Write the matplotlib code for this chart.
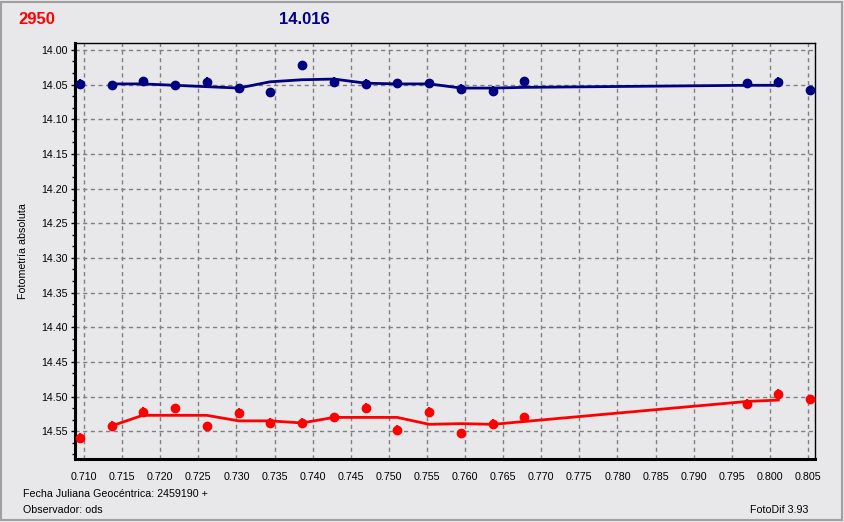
import matplotlib
matplotlib.use("Agg")
import matplotlib.pyplot as plt
from matplotlib.ticker import MultipleLocator, AutoMinorLocator, FormatStrFormatter
from matplotlib.patches import Rectangle

plt.rcParams['font.family'] = ['Liberation Sans', 'DejaVu Sans']

# ---- data ----
x_pts = [0.7095, 0.7137, 0.7177, 0.7219, 0.7261, 0.7303, 0.7344, 0.7386, 0.7428,
         0.7470, 0.7511, 0.7553, 0.7595, 0.7637, 0.7677, 0.7970, 0.8011, 0.8053]
blue_pts = [14.049, 14.051, 14.045, 14.051, 14.046, 14.055, 14.061, 14.022, 14.046,
            14.049, 14.048, 14.048, 14.056, 14.059, 14.045, 14.048, 14.046, 14.058]
red_pts = [14.559, 14.542, 14.522, 14.517, 14.543, 14.523, 14.538, 14.538, 14.530,
           14.516, 14.548, 14.522, 14.553, 14.539, 14.530, 14.510, 14.496, 14.504]
pt_err = [0.0065] * 18

x_trend = [0.7137, 0.7177, 0.7219, 0.7261, 0.7303, 0.7344, 0.7386, 0.7428, 0.7470,
           0.7511, 0.7553, 0.7595, 0.7637, 0.7677, 0.7970, 0.8011]
blue_trend = [14.049, 14.049, 14.051, 14.053, 14.055, 14.046, 14.043, 14.042, 14.048,
              14.049, 14.049, 14.055, 14.055, 14.054, 14.051, 14.051]
red_trend = [14.542, 14.527, 14.527, 14.527, 14.535, 14.535, 14.538, 14.530, 14.530,
             14.530, 14.540, 14.539, 14.540, 14.536, 14.507, 14.505]

title_left = "2950"
title_mid = "14.016"
ylabel = "Fotometría absoluta"
footer1 = "Fecha Juliana Geocéntrica: 2459190 +"
footer2 = "Observador: ods"
footer3 = "FotoDif 3.93"

BG = '#E8E8EA'
NAVY = '#000080'
RED = '#FF0000'
FS = 7.7

fig = plt.figure(figsize=(8.44, 5.22), dpi=100, facecolor=BG)
fig.patches.append(Rectangle((1/844, 2/522), 841/844, 518/522, transform=fig.transFigure,
                             fill=False, edgecolor='#A0A0A0', linewidth=1.5))

ax = fig.add_axes([75/844, 1 - 459/522, (815 - 75)/844, (459 - 43)/522])
ax.set_facecolor(BG)

ax.plot(x_trend, blue_trend, color=NAVY, lw=2.0, zorder=3)
ax.plot(x_trend, red_trend, color=RED, lw=2.0, zorder=3)
ax.errorbar(x_pts, blue_pts, yerr=pt_err, fmt='o', color=NAVY, ms=6, elinewidth=1.5,
            capsize=0, zorder=4)
ax.errorbar(x_pts, red_pts, yerr=pt_err, fmt='o', color=RED, ms=6, elinewidth=1.5,
            capsize=0, zorder=4)

ax.set_xlim(0.70882, 0.80592)
ax.set_ylim(14.590, 13.990)
ax.set_xticks([0.710 + 0.005 * i for i in range(20)])
ax.set_yticks([14.00 + 0.05 * i for i in range(12)])
ax.yaxis.set_minor_locator(AutoMinorLocator(3))
ax.xaxis.set_major_formatter(FormatStrFormatter('%.3f'))
ax.yaxis.set_major_formatter(FormatStrFormatter('%.2f'))

ax.grid(True, which='major', color='#808080', linestyle=(0, (3, 2.5)), linewidth=1.0, zorder=1)
ax.tick_params(axis='x', which='both', length=0, pad=9, labelsize=FS, colors='black')
ax.tick_params(axis='y', which='major', length=3, width=1, pad=2, labelsize=FS, colors='black')
ax.tick_params(axis='y', which='minor', length=2, width=1)

for s in ['top', 'right']:
    ax.spines[s].set_linewidth(1.0)
for s in ['left', 'bottom']:
    ax.spines[s].set_linewidth(2.2)
for s in ax.spines.values():
    s.set_color('black')

ax.set_ylabel(ylabel, fontsize=FS, labelpad=10)

fig.text(18/844, 1 - 19/522, title_left, color=RED, fontsize=12, fontweight='bold',
         ha='left', va='center')
fig.text(304/844, 1 - 19/522, title_mid, color=NAVY, fontsize=12, fontweight='bold',
         ha='center', va='center')
fig.text(23/844, 1 - 494/522, footer1, fontsize=FS, ha='left', va='center')
fig.text(23/844, 1 - 510/522, footer2, fontsize=FS, ha='left', va='center')
fig.text(808/844, 1 - 510/522, footer3, fontsize=FS, ha='right', va='center')

fig.savefig('out.png', dpi=100, facecolor=BG)
